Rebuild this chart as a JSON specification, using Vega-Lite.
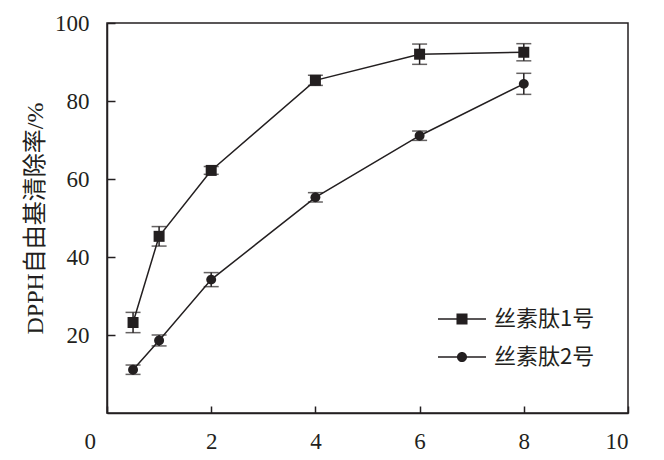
{
  "$schema": "https://vega.github.io/schema/vega-lite/v6.json",
  "width": 521,
  "height": 390,
  "autosize": "none",
  "padding": {"left": 107, "top": 23, "right": 36, "bottom": 47},
  "background": "white",
  "config": {
    "view": {"stroke": "#231f20", "strokeWidth": 1.5}
  },
  "data": {
    "values": [
      {"series": "丝素肽1号", "x": 0.5, "y": 23.2, "err": 2.6},
      {"series": "丝素肽1号", "x": 1, "y": 45.3, "err": 2.5},
      {"series": "丝素肽1号", "x": 2, "y": 62.2, "err": 1.0},
      {"series": "丝素肽1号", "x": 4, "y": 85.3, "err": 1.3},
      {"series": "丝素肽1号", "x": 6, "y": 92.0, "err": 2.6},
      {"series": "丝素肽1号", "x": 8, "y": 92.5, "err": 2.2},
      {"series": "丝素肽2号", "x": 0.5, "y": 11.1, "err": 1.2},
      {"series": "丝素肽2号", "x": 1, "y": 18.6, "err": 1.4},
      {"series": "丝素肽2号", "x": 2, "y": 34.2, "err": 1.8},
      {"series": "丝素肽2号", "x": 4, "y": 55.3, "err": 1.2},
      {"series": "丝素肽2号", "x": 6, "y": 71.1, "err": 1.2},
      {"series": "丝素肽2号", "x": 8, "y": 84.4, "err": 2.7}
    ]
  },
  "encoding": {
    "x": {
      "field": "x", "type": "quantitative",
      "scale": {"domain": [0, 10], "nice": false, "zero": false},
      "axis": {
        "values": [0, 2, 4, 6, 8, 10],
        "grid": false,
        "domainColor": "#231f20", "domainWidth": 1.5,
        "tickColor": "#231f20", "tickWidth": 1.5,
        "tickSize": -7,
        "labelColor": "#231f20", "labelFont": "Liberation Serif, serif", "labelFontSize": 23,
        "labelPadding": 24,
        "labelOffset": {"condition": {"test": "datum.value == 0", "value": -23}, "value": 0},
        "title": null
      }
    },
    "y": {
      "field": "y", "type": "quantitative",
      "scale": {"domain": [0, 100], "nice": false},
      "axis": {
        "values": [20, 40, 60, 80, 100],
        "grid": false,
        "domainColor": "#231f20", "domainWidth": 1.5,
        "tickColor": "#231f20", "tickWidth": 1.5,
        "tickSize": -8,
        "labelColor": "#231f20", "labelFont": "Liberation Serif, serif", "labelFontSize": 23,
        "labelPadding": 26,
        "title": "DPPH自由基清除率/%",
        "titleColor": "#231f20",
        "titleFont": "Liberation Serif, Noto Sans CJK SC",
        "titleFontSize": 24,
        "titleFontWeight": "normal",
        "titlePadding": 7
      }
    }
  },
  "layer": [
    {
      "mark": {"type": "errorbar", "ticks": {"size": 15, "color": "#231f20", "thickness": 1.5}, "rule": {"color": "#231f20", "strokeWidth": 1.5}},
      "encoding": {
        "yError": {"field": "err"},
        "detail": {"field": "series"}
      }
    },
    {
      "mark": {"type": "line", "color": "#231f20", "strokeWidth": 1.5},
      "encoding": {"detail": {"field": "series"}}
    },
    {
      "mark": {"type": "point", "filled": true, "color": "#231f20", "opacity": 1, "size": 121},
      "encoding": {
        "shape": {
          "field": "series", "type": "nominal",
          "scale": {"range": ["square", "M-0.9,0A0.9,0.9,0,1,1,0.9,0A0.9,0.9,0,1,1,-0.9,0Z"]},
          "legend": null
        }
      }
    },
    {
      "mark": {"type": "point", "filled": true, "color": "#231f20", "opacity": 0, "size": 121},
      "encoding": {
        "shape": {
          "field": "series", "type": "nominal",
          "scale": {"range": [
            "M-1,-0.032H1V0.032H-1ZM-0.23,-0.23H0.23V0.23H-0.23Z",
            "M-1,-0.032H1V0.032H-1ZM-0.21,0A0.21,0.21,0,1,1,0.21,0A0.21,0.21,0,1,1,-0.21,0Z"
          ]},
          "legend": {
            "title": null,
            "orient": "none",
            "legendX": 330,
            "legendY": 271,
            "symbolSize": 2304,
            "symbolOpacity": 1,
            "symbolFillColor": "#231f20",
            "labelFont": "Noto Sans CJK SC",
            "labelFontSize": 22,
            "labelColor": "#231f20",
            "labelOffset": 7
          }
        }
      }
    }
  ],
  "resolve": {"scale": {"shape": "independent"}}
}
